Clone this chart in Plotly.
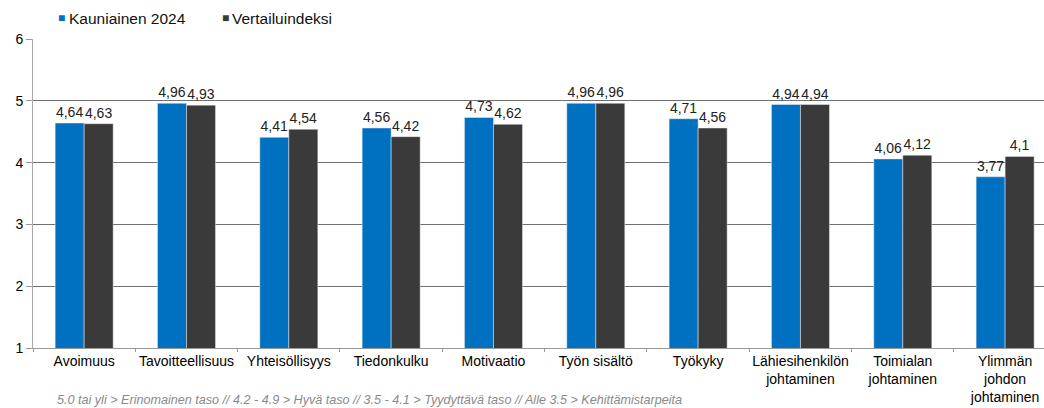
import plotly.graph_objects as go

categories = ["Avoimuus", "Tavoitteellisuus", "Yhteisöllisyys", "Tiedonkulku", "Motivaatio",
              "Työn sisältö", "Työkyky", "Lähiesihenkilön<br>johtaminen", "Toimialan<br>johtaminen",
              "Ylimmän<br>johdon<br>johtaminen"]
kauniainen = [4.64, 4.96, 4.41, 4.56, 4.73, 4.96, 4.71, 4.94, 4.06, 3.77]
vertailu = [4.63, 4.93, 4.54, 4.42, 4.62, 4.96, 4.56, 4.94, 4.12, 4.10]
y_ticks = [1, 2, 3, 4, 5, 6]
series_names = ["Kauniainen 2024", "Vertailuindeksi"]
colors = ["#0070C0", "#3A3A3A"]
footer = "5.0 tai yli > Erinomainen taso // 4.2 - 4.9 > Hyvä taso // 3.5 - 4.1 > Tyydyttävä taso // Alle 3.5 > Kehittämistarpeita"

def fmt(v):
    s = ("%.2f" % v).rstrip("0").rstrip(".")
    return s.replace(".", ",")

font = "Liberation Sans, Arial, sans-serif"

W, H = 1044, 408
L, T, B = 33, 39, 60
PW, PH = W - L, H - T - B

def px(x):  # pixel -> paper
    return (x - L) / PW

def py(y):
    return (H - B - y) / PH

fig = go.Figure()
for name, vals, col in zip(series_names, [kauniainen, vertailu], colors):
    fig.add_trace(go.Bar(name=name, x=categories, y=vals, marker_color=col,
                         text=[fmt(v) for v in vals], textposition="outside", cliponaxis=False,
                         textfont=dict(size=14, color="#222", family=font)))

fig.update_layout(
    width=W, height=H,
    margin=dict(l=L, r=0, t=T, b=B),
    paper_bgcolor="white", plot_bgcolor="white",
    barmode="group", bargap=0.433, bargroupgap=0,
    uniformtext=dict(minsize=14, mode="show"),
    font=dict(family=font, size=14, color="black"),
    showlegend=False,
    xaxis=dict(range=[-0.5, 9.38], tickson="boundaries", ticks="outside", ticklen=3,
               tickcolor="#999", showline=True, linecolor="#999", linewidth=1,
               automargin=False, tickangle=0,
               tickfont=dict(size=14, family=font, color="black")),
    yaxis=dict(range=[1, 6], tickvals=y_ticks, ticks="outside", ticklen=6, tickcolor="#999",
               showline=True, linecolor="#aaa", linewidth=1, showgrid=True,
               gridcolor="#707070", gridwidth=1, zeroline=False, automargin=False,
               tickfont=dict(size=14, family=font, color="black")),
)

# legend drawn as annotations (small square + label)
legend_sq_x = [61, 225]
legend_tx_x = [67, 230]
for name, col, sx, tx in zip(series_names, colors, legend_sq_x, legend_tx_x):
    fig.add_annotation(text="■", xref="paper", yref="paper", x=px(sx), y=py(18),
                       xanchor="center", yanchor="middle", showarrow=False,
                       font=dict(size=12, color=col, family=font))
    fig.add_annotation(text=name, xref="paper", yref="paper", x=px(tx), y=py(18),
                       xanchor="left", yanchor="middle", showarrow=False,
                       font=dict(size=15.5, color="#111", family=font))

fig.add_annotation(text="<i>" + footer + "</i>", xref="paper", yref="paper",
                   x=px(55), y=py(400),
                   xanchor="left", yanchor="middle", showarrow=False,
                   font=dict(size=12.6, color="#8a8a8a", family=font))
fig.write_html("out.html", config={"displayModeBar": False},
               post_script="document.body.style.margin='0';document.body.style.overflow='hidden';")
